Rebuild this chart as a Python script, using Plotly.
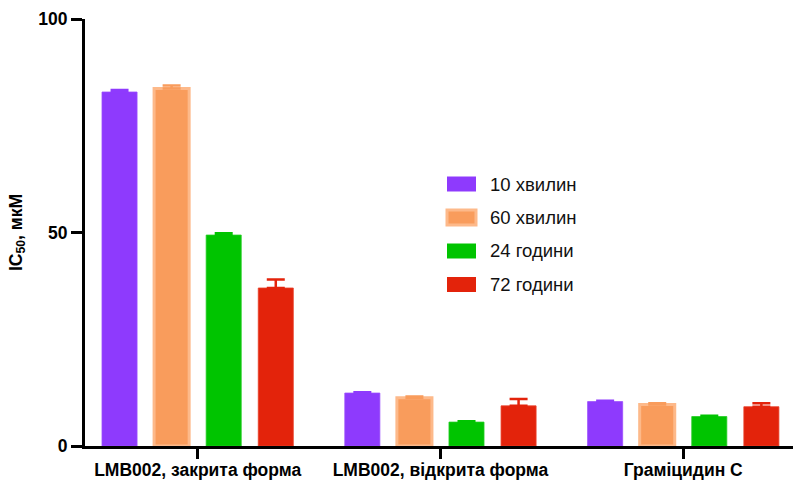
import plotly.graph_objects as go

# Compounds on the x axis
categories = ["LMB002, закрита форма", "LMB002, відкрита форма", "Граміцидин С"]

# Exposure times (series)
series_names = ["10 хвилин", "60 хвилин", "24 години", "72 години"]

# IC50 means, µM
ic50_10min = [82.9, 12.4, 10.4]
ic50_60min = [83.7, 11.3, 9.7]
ic50_24h = [49.4, 5.6, 6.9]
ic50_72h = [37.0, 9.4, 9.2]

# Upper error (SD), µM
err_10min = [0.5, 0.2, 0.2]
err_60min = [0.7, 0.3, 0.3]
err_24h = [0.4, 0.2, 0.2]
err_72h = [2.0, 1.6, 0.8]

y_ticks = [0, 50, 100]

values = [ic50_10min, ic50_60min, ic50_24h, ic50_72h]
errors = [err_10min, err_60min, err_24h, err_72h]
fills = ["#8E3AFD", "#F99C5C", "#00C400", "#E3230B"]
edges = ["#9A4DFD", "#FDB98A", "#22CC22", "#E8402A"]
edge_w = [0.8, 3, 0.8, 0.8]

W, H = 793, 483
ML, MR, MT, MB = 85, 0, 19, 37
FONT = "Liberation Sans, Arial"

fig = go.Figure()
for name, vals, errs, fc, ec, lw in zip(series_names, values, errors, fills, edges, edge_w):
    fig.add_trace(go.Bar(
        x=categories, y=vals, name=name,
        marker=dict(color=fc, line=dict(color=ec, width=lw)),
        error_y=dict(type="data", symmetric=False, array=errs,
                     arrayminus=[0] * len(errs), color=fc,
                     thickness=2.5, width=9),
        showlegend=False,
    ))

# Legend: swatch + label, placed in paper coordinates
plot_w = W - ML - MR
plot_h = H - MT - MB
sw_x0 = (447 - ML) / plot_w
sw_x1 = (476 - ML) / plot_w
txt_x = (488 - ML) / plot_w
row_px = [184, 217.5, 251, 284.5]
half_h = 7.5 / plot_h
for name, fc, ec, lw, ypx in zip(series_names, fills, edges, edge_w, row_px):
    yc = (H - MB - ypx) / plot_h
    fig.add_shape(type="rect", xref="paper", yref="paper",
                  x0=sw_x0, x1=sw_x1, y0=yc - half_h, y1=yc + half_h,
                  fillcolor=fc, line=dict(color=ec, width=lw if lw > 1 else 0))
    fig.add_annotation(xref="paper", yref="paper", x=txt_x, y=yc,
                       text=name, showarrow=False, xanchor="left", yanchor="middle",
                       font=dict(family=FONT, size=18.5, color="#111"))

fig.update_layout(
    width=W, height=H,
    margin=dict(l=ML, r=MR, t=MT, b=MB),
    plot_bgcolor="white", paper_bgcolor="white",
    barmode="group", bargap=0.142, bargroupgap=0.327,
    font=dict(family=FONT, color="black"),
)
fig.update_xaxes(
    range=[-0.464, 2.452], showline=True, linecolor="black", linewidth=3,
    ticks="outside", ticklen=10, tickwidth=3, tickcolor="black",
    ticklabelstandoff=-4,
    tickfont=dict(family=FONT, size=17.5, weight="bold", color="black"),
    showgrid=False, zeroline=False, automargin=False,
)
fig.update_yaxes(
    range=[0, 100], tickvals=y_ticks, showline=True, linecolor="black", linewidth=3,
    ticks="outside", ticklen=11, tickwidth=3, tickcolor="black",
    tickfont=dict(family=FONT, size=17.5, weight="bold", color="black"),
    showgrid=False, zeroline=False, automargin=False,
    title=dict(text="IC<sub>50</sub>, мкМ", standoff=12,
               font=dict(family=FONT, size=17.5, weight="bold", color="black")),
)

fig.write_html("out.html")
